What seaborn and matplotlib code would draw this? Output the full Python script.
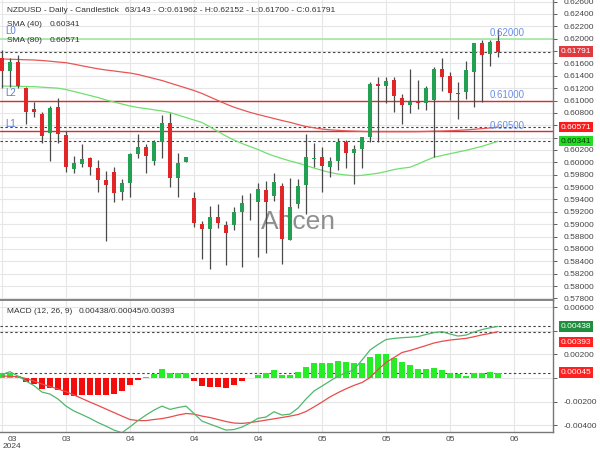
import numpy as np
import pandas as pd
import matplotlib
matplotlib.use("Agg")
import matplotlib.pyplot as plt
from matplotlib.transforms import blended_transform_factory, ScaledTranslation
import seaborn as sns

# ---------------- data ----------------
opens = [0.61683, 0.61483, 0.61628, 0.61208, 0.60858, 0.60782, 0.60470, 0.60891, 0.60443, 0.59893,
         0.59969, 0.60066, 0.59914, 0.59715, 0.59849, 0.59516, 0.59671, 0.60131, 0.60244, 0.60022,
         0.60334, 0.60632, 0.59742, 0.60001, 0.59419, 0.59003, 0.58917, 0.59111, 0.58992, 0.58987,
         0.59202, 0.59354, 0.59354, 0.59561, 0.59461, 0.59618, 0.58752, 0.59327, 0.59634, 0.60054,
         0.60082, 0.59930, 0.60027, 0.60334, 0.60147, 0.60216, 0.60406, 0.61268, 0.61240, 0.61332,
         0.61036, 0.60928, 0.60981, 0.60956, 0.61009, 0.61505, 0.61397, 0.61127, 0.61143, 0.61467,
         0.61926, 0.61748, 0.61962]
highs = [0.61818, 0.61683, 0.61737, 0.61224, 0.60981, 0.60820, 0.60912, 0.61046, 0.60507, 0.60108,
         0.60292, 0.60092, 0.60038, 0.59860, 0.59920, 0.59726, 0.60156, 0.60454, 0.60297, 0.60362,
         0.60766, 0.60803, 0.60147, 0.60082, 0.59526, 0.59056, 0.59299, 0.59322, 0.59051, 0.59283,
         0.59472, 0.59505, 0.59661, 0.59699, 0.59836, 0.59666, 0.59742, 0.59726, 0.60454, 0.60308,
         0.60244, 0.60092, 0.60389, 0.60362, 0.60280, 0.60415, 0.61305, 0.61386, 0.61381, 0.61376,
         0.61106, 0.61505, 0.61332, 0.61235, 0.61548, 0.61693, 0.61457, 0.61305, 0.61645, 0.61936,
         0.61979, 0.61979, 0.62152]
lows = [0.61198, 0.61224, 0.61198, 0.60621, 0.60739, 0.60308, 0.60027, 0.60308, 0.59849, 0.59823,
        0.59920, 0.59796, 0.59516, 0.58728, 0.59354, 0.59391, 0.59435, 0.60066, 0.59823, 0.59957,
        0.60076, 0.59606, 0.59435, 0.60001, 0.58950, 0.58432, 0.58270, 0.58934, 0.58340, 0.58906,
        0.58312, 0.59060, 0.58474, 0.58529, 0.59375, 0.58356, 0.58744, 0.59257, 0.59160, 0.59925,
        0.59516, 0.59768, 0.59877, 0.59914, 0.59650, 0.59914, 0.60334, 0.60334, 0.60960, 0.60820,
        0.60616, 0.60803, 0.60858, 0.60847, 0.60092, 0.61159, 0.61009, 0.60702, 0.61025, 0.60901,
        0.60981, 0.61564, 0.61700]
closes = [0.61483, 0.61628, 0.61235, 0.60820, 0.60815, 0.60426, 0.60880, 0.60454, 0.59920, 0.59985,
          0.60060, 0.59920, 0.59715, 0.59634, 0.59500, 0.59661, 0.60131, 0.60244, 0.60108, 0.60334,
          0.60632, 0.59742, 0.59995, 0.60082, 0.59024, 0.58917, 0.59111, 0.59014, 0.58853, 0.59192,
          0.59338, 0.59354, 0.59564, 0.59354, 0.59687, 0.58760, 0.59278, 0.59623, 0.60092, 0.60071,
          0.59946, 0.60022, 0.60334, 0.60147, 0.60216, 0.60406, 0.61268, 0.61240, 0.61316, 0.61074,
          0.60928, 0.60981, 0.60956, 0.61198, 0.61505, 0.61386, 0.61117, 0.61106, 0.61494, 0.61926,
          0.61737, 0.61952, 0.61791]
sma40 = [0.61235, 0.61232, 0.61229, 0.61227, 0.61224, 0.61216, 0.61208, 0.61200, 0.61178, 0.61146,
         0.61114, 0.61081, 0.61049, 0.61009, 0.60976, 0.60944, 0.60912, 0.60887, 0.60870, 0.60850,
         0.60831, 0.60806, 0.60766, 0.60725, 0.60685, 0.60645, 0.60572, 0.60499, 0.60426, 0.60361,
         0.60305, 0.60256, 0.60208, 0.60151, 0.60103, 0.60062, 0.60022, 0.59989, 0.59949, 0.59908,
         0.59871, 0.59836, 0.59811, 0.59795, 0.59784, 0.59790, 0.59807, 0.59824, 0.59852, 0.59884,
         0.59905, 0.59921, 0.59973, 0.60030, 0.60083, 0.60111, 0.60140, 0.60167, 0.60195, 0.60227,
         0.60260, 0.60300, 0.60341]
sma80 = [0.61672, 0.61668, 0.61664, 0.61659, 0.61656, 0.61647, 0.61636, 0.61623, 0.61612, 0.61588,
         0.61562, 0.61537, 0.61513, 0.61494, 0.61478, 0.61461, 0.61445, 0.61421, 0.61389, 0.61356,
         0.61324, 0.61283, 0.61243, 0.61203, 0.61162, 0.61114, 0.61057, 0.61000, 0.60944, 0.60892,
         0.60850, 0.60809, 0.60774, 0.60742, 0.60709, 0.60677, 0.60648, 0.60612, 0.60580, 0.60559,
         0.60539, 0.60526, 0.60518, 0.60510, 0.60505, 0.60500, 0.60497, 0.60496, 0.60496, 0.60496,
         0.60496, 0.60496, 0.60497, 0.60500, 0.60504, 0.60507, 0.60512, 0.60518, 0.60525, 0.60535,
         0.60546, 0.60557, 0.60571]
macd = [0.00029, 0.00053, 0.00016, -0.00026, -0.00065, -0.00120, -0.00137, -0.00179, -0.00239, -0.00281,
        -0.00311, -0.00343, -0.00379, -0.00409, -0.00443, -0.00465, -0.00415, -0.00362, -0.00315, -0.00273,
        -0.00239, -0.00267, -0.00251, -0.00239, -0.00302, -0.00366, -0.00392, -0.00417, -0.00443, -0.00438,
        -0.00417, -0.00383, -0.00343, -0.00332, -0.00287, -0.00315, -0.00307, -0.00256, -0.00179, -0.00111,
        -0.00069, -0.00026, 0.00016, 0.00042, 0.00071, 0.00152, 0.00237, 0.00284, 0.00326, 0.00336,
        0.00342, 0.00346, 0.00351, 0.00369, 0.00385, 0.00393, 0.00373, 0.00356, 0.00364, 0.00390,
        0.00411, 0.00426, 0.00438]
signal = [0.00016, 0.00014, 0.00011, -0.00005, -0.00026, -0.00052, -0.00073, -0.00094, -0.00116, -0.00145,
          -0.00175, -0.00205, -0.00234, -0.00264, -0.00294, -0.00324, -0.00353, -0.00362, -0.00362, -0.00353,
          -0.00345, -0.00332, -0.00315, -0.00302, -0.00307, -0.00324, -0.00336, -0.00353, -0.00370, -0.00383,
          -0.00386, -0.00379, -0.00369, -0.00358, -0.00347, -0.00336, -0.00324, -0.00311, -0.00285, -0.00246,
          -0.00205, -0.00161, -0.00125, -0.00092, -0.00063, -0.00039, 0.00003, 0.00071, 0.00131, 0.00173,
          0.00216, 0.00233, 0.00254, 0.00275, 0.00297, 0.00311, 0.00322, 0.00329, 0.00336, 0.00350,
          0.00366, 0.00378, 0.00393]
hist = [0.00039, 0.00044, 0.00016, -0.00032, -0.00055, -0.00094, -0.00088, -0.00103, -0.00145, -0.00154,
        -0.00145, -0.00145, -0.00145, -0.00145, -0.00137, -0.00108, -0.00060, -0.00018, 0.00005, 0.00033,
        0.00073, 0.00044, 0.00039, 0.00039, -0.00024, -0.00069, -0.00074, -0.00074, -0.00089, -0.00060,
        -0.00024, 0.00002, 0.00025, 0.00039, 0.00067, 0.00025, 0.00025, 0.00053, 0.00095, 0.00130,
        0.00130, 0.00130, 0.00146, 0.00138, 0.00130, 0.00130, 0.00180, 0.00203, 0.00203, 0.00172,
        0.00138, 0.00110, 0.00076, 0.00076, 0.00081, 0.00067, 0.00044, 0.00030, 0.00016, 0.00039,
        0.00039, 0.00053, 0.00045]

xtick_pos = [0, 8, 16, 24, 32, 40, 48, 56, 64]
xtick_labels = ["03\n2024", "03", "04", "04", "04", "05", "05", "05", "06"]
level_names = ["L0", "L2", "L1"]
level_values = [0.62000, 0.61000, 0.60500]
last_close = 0.61791
sma40_last = 0.60341
sma80_last = 0.60571
macd_last, hist_last, signal_last = 0.00438, 0.00045, 0.00393
main_ticks = [0.578, 0.580, 0.582, 0.584, 0.586, 0.588, 0.590, 0.592, 0.594, 0.596, 0.598, 0.600,
              0.602, 0.604, 0.606, 0.608, 0.610, 0.612, 0.614, 0.616, 0.618, 0.620, 0.622, 0.624, 0.626]
main_hidden = [0.604, 0.606, 0.618]          # covered by the value boxes
macd_ticks = [-0.004, -0.002, 0.0, 0.002, 0.004, 0.006]
macd_hidden = [0.0, 0.004]

# ---------------- style ----------------
sns.set_theme(style="white")
plt.rcParams['font.family'] = ['Liberation Sans', 'DejaVu Sans']

TXT = '#333333'
GRID = '#e6e6e6'
UP = '#23a152'
DOWN = '#e02626'
n = len(closes)
idx = np.arange(n)

fig = plt.figure(figsize=(6, 4.5), dpi=100)
ax = fig.add_axes([0, 1 - 300 / 450, 553 / 600, 300 / 450])
ax2 = fig.add_axes([0, 1 - 432 / 450, 553 / 600, 132 / 450], sharex=ax)

xmin, xmax = -0.25, 68.875
for a in (ax, ax2):
    a.set_facecolor('white')
    a.set_xlim(xmin, xmax)
    a.grid(True, color=GRID, lw=0.8)
    a.set_axisbelow(True)
    for s in ('left', 'top'):
        a.spines[s].set_visible(False)
    for s in ('right', 'bottom'):
        a.spines[s].set_color('#777777')
        a.spines[s].set_linewidth(1.0)
    a.yaxis.tick_right()
    a.tick_params(axis='y', labelsize=6, colors='#444444', length=3, pad=5, width=0.6)
    a.set_xticks(xtick_pos)


def fmt_main(v, p):
    if any(abs(v - hv) < 1e-7 for hv in main_hidden):
        return ""
    return f"{v:.5f}"


def fmt_macd(v, p):
    if any(abs(v - hv) < 1e-9 for hv in macd_hidden):
        return ""
    return f"{v:.5f}"


# ---------------- main panel ----------------
ax.set_ylim(0.57774, 0.62626)
ax.set_yticks(main_ticks)
ax.yaxis.set_major_formatter(matplotlib.ticker.FuncFormatter(fmt_main))
ax.tick_params(axis='x', labelbottom=False, length=0)

# watermark
ax.text(37.1, 0.59035, "Ahcen", fontsize=19, color='#8f8f8f', ha='center', va='center', zorder=1)

# levels
ax.axhline(level_values[0], color='#9de89d', lw=1.1, zorder=2)
ax.axhline(level_values[1], color='#dd2a2a', lw=1.0, zorder=2)
ax.axhline(level_values[2], color='#dd2a2a', lw=1.0, zorder=2)
for name, v in zip(level_names, level_values):
    ax.annotate(name, (0.4, v), xytext=(0, 2.0), textcoords='offset points',
                fontsize=7, color='#5b7fdc', ha='left', va='bottom', zorder=6)
    ax.annotate(f"{v:.5f}", (61.0, v), xytext=(0, 0.5), textcoords='offset points',
                fontsize=7, color='#6b8fe6', ha='left', va='bottom', zorder=6)

# dashed value lines
for v in (last_close, sma80_last, sma40_last):
    ax.axhline(v, color='#444444', lw=0.8, ls=(0, (2.2, 2.2)), zorder=2)

# SMA lines
df = pd.DataFrame({'i': idx, 'sma40': sma40, 'sma80': sma80})
sns.lineplot(data=df, x='i', y='sma80', ax=ax, color='#e85555', lw=0.9, zorder=3)
sns.lineplot(data=df, x='i', y='sma40', ax=ax, color='#6fe06f', lw=0.9, zorder=3)

# candles
o = np.array(opens); h = np.array(highs); l = np.array(lows); c = np.array(closes)
cols = np.where(c > o, UP, np.where(c < o, DOWN, '#888888'))
ax.vlines(idx, l, h, color='#4a4a4a', lw=0.9, zorder=4)
bottoms = np.minimum(o, c)
heights = np.maximum(np.abs(c - o), 0.00008)
ax.bar(idx, heights, bottom=bottoms, width=0.62, color=cols, edgecolor='none', zorder=5)
ax.set_xlabel(''); ax.set_ylabel('')

# header texts
FS = 6.0
fig.text(7 / 600, 1 - 10 / 450, "NZDUSD - Daily - Candlestick", fontsize=FS, color=TXT, va='center')
fig.text(125 / 600, 1 - 10 / 450,
         f"63/143 - O:{opens[-1]:.5f} - H:{highs[-1]:.5f} - L:{lows[-1]:.5f} - C:{closes[-1]:.5f}",
         fontsize=FS, color=TXT, va='center')
fig.text(7 / 600, 1 - 24 / 450, "SMA (40)", fontsize=FS, color=TXT, va='center')
fig.text(50 / 600, 1 - 24 / 450, f"{sma40_last:.5f}", fontsize=FS, color=TXT, va='center')
fig.text(7 / 600, 1 - 40 / 450, "SMA (80)", fontsize=FS, color=TXT, va='center')
fig.text(50 / 600, 1 - 40 / 450, f"{sma80_last:.5f}", fontsize=FS, color=TXT, va='center')

# right-axis value boxes
tr = blended_transform_factory(ax.transAxes, ax.transData)
for v, fc, tc in ((last_close, '#e0393e', 'white'), (sma80_last, '#ff1a1a', 'white'),
                  (sma40_last, '#22dd22', '#0a3a0a')):
    ax.text(1.0135, v, f"{v:.5f}", transform=tr, fontsize=6, color=tc, ha='left', va='center',
            bbox=dict(boxstyle='square,pad=0.2', fc=fc, ec='none'), zorder=10, clip_on=False)

# ---------------- MACD panel ----------------
ax2.set_ylim(-0.00459, 0.00662)
ax2.set_yticks(macd_ticks)
ax2.yaxis.set_major_formatter(matplotlib.ticker.FuncFormatter(fmt_macd))
ax2.spines['top'].set_visible(True)
ax2.spines['top'].set_color('#777777')
ax2.set_xticklabels(xtick_labels)
ax2.tick_params(axis='x', labelsize=6, colors='#444444', length=0, pad=3)
first = ax2.get_xticklabels()[0]
first.set_linespacing(0.95)
first.set_transform(first.get_transform() + ScaledTranslation(10 / 100, 0, fig.dpi_scale_trans))

hcols = np.where(np.array(hist) >= 0, '#26ee26', '#f20c0c')
ax2.bar(idx, hist, width=0.65, color=hcols, edgecolor='none', zorder=3)
for v in (macd_last, signal_last, hist_last):
    ax2.axhline(v, color='#444444', lw=0.8, ls=(0, (2.2, 2.2)), zorder=2)
dm = pd.DataFrame({'i': idx, 'macd': macd, 'signal': signal})
sns.lineplot(data=dm, x='i', y='signal', ax=ax2, color='#e84c4c', lw=0.9, zorder=4)
sns.lineplot(data=dm, x='i', y='macd', ax=ax2, color='#4fb86c', lw=0.9, zorder=4)
ax2.set_xlabel(''); ax2.set_ylabel('')

ax2.text(7 / 553, 1 - 11.7 / 132, "MACD (12, 26, 9)", transform=ax2.transAxes, fontsize=FS, color=TXT, va='center')
ax2.text(79 / 553, 1 - 11.7 / 132, f"{macd_last:.5f}/{hist_last:.5f}/{signal_last:.5f}",
         transform=ax2.transAxes, fontsize=FS, color=TXT, va='center')

# value boxes (the signal box is pushed down so it does not collide with the MACD box)
tr2 = blended_transform_factory(ax2.transAxes, ax2.transData)
for v, fc, dy in ((macd_last, '#1f8f3f', 0.0), (signal_last, '#ff2020', -7.5), (hist_last, '#ff2020', 0.0)):
    ax2.annotate(f"{v:.5f}", (1.0135, v), xycoords=tr2, xytext=(0, dy), textcoords='offset points',
                 fontsize=6, color='white', ha='left', va='center',
                 bbox=dict(boxstyle='square,pad=0.2', fc=fc, ec='none'), zorder=10, annotation_clip=False)

fig.savefig('out.png', dpi=100, facecolor='white')
